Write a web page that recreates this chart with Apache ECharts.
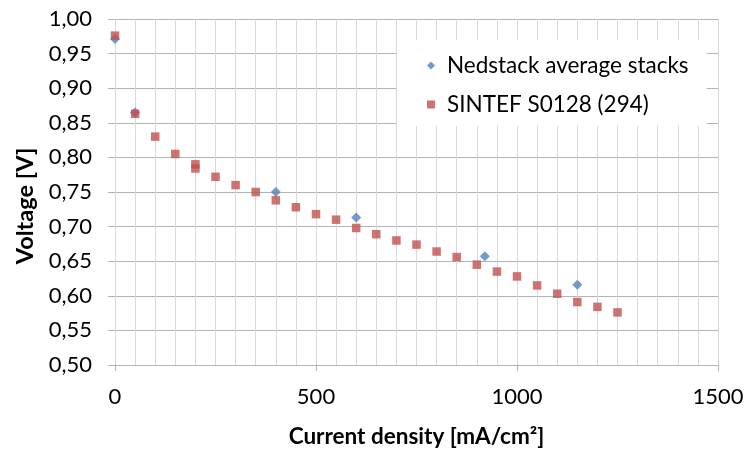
<!DOCTYPE html>
<html>
<head>
<meta charset="utf-8">
<script src="https://cdn.jsdelivr.net/npm/echarts@6/dist/echarts.min.js"></script>
<style>
  html, body { margin: 0; padding: 0; background: #fff; }
  #chart { width: 750px; height: 453px; }
</style>
</head>
<body>
<div id="chart"></div>
<script>
// Nedstack average stacks
var nedstackX = [0, 50, 400, 600, 920, 1150];
var nedstackV = [0.971, 0.865, 0.750, 0.713, 0.657, 0.616];

// SINTEF S0128 (294)
var sintefX = [0, 50, 100, 150, 200, 200, 250, 300, 350, 400, 450, 500, 550, 600, 650, 700,
  750, 800, 850, 900, 950, 1000, 1050, 1100, 1150, 1200, 1250];
var sintefV = [0.976, 0.863, 0.830, 0.805, 0.790, 0.784, 0.772, 0.760, 0.750, 0.738, 0.728,
  0.718, 0.710, 0.698, 0.689, 0.680, 0.674, 0.664, 0.656, 0.645, 0.635, 0.628, 0.615,
  0.603, 0.591, 0.584, 0.576];

var xTicks = [0, 500, 1000, 1500];

function pairs(xs, ys) {
  return xs.map(function (x, i) { return [x, ys[i]]; });
}

var font = 'Lato, "Open Sans", sans-serif';
var myChart = echarts.init(document.getElementById('chart'));

var option = {
  animation: false,
  textStyle: { fontFamily: font },
  grid: { left: 115, right: 32, top: 19, bottom: 85 },
  legend: {
    orient: 'vertical',
    left: 397,
    top: 40,
    padding: [14, 18, 10, 30],
    itemGap: 16,
    itemWidth: 8,
    itemHeight: 8,
    backgroundColor: '#fff',
    textStyle: { fontSize: 22.5, color: '#000', fontFamily: font, padding: [0, 0, 0, 7] },
    data: [
      { name: 'Nedstack average stacks', icon: 'diamond' },
      { name: 'SINTEF S0128 (294)', icon: 'rect' }
    ]
  },
  xAxis: {
    type: 'value',
    min: 0,
    max: 1500,
    interval: 500,
    name: 'Current density [mA/cm²]',
    nameLocation: 'middle',
    nameGap: 60,
    nameTextStyle: { fontSize: 22.5, fontWeight: 'bold', color: '#000', fontFamily: font },
    axisLine: { show: true, lineStyle: { color: '#b3b3b3' } },
    axisTick: { show: true, length: 6, lineStyle: { color: '#b3b3b3' } },
    axisLabel: {
      fontSize: 22, color: '#000', margin: 21,
      formatter: function (v) { return String(v); }
    },
    splitLine: { show: true, lineStyle: { color: '#d9d9d9' } },
    minorTick: { show: false, splitNumber: 10 },
    minorSplitLine: { show: true, lineStyle: { color: '#d9d9d9' } }
  },
  yAxis: {
    type: 'value',
    min: 0.5,
    max: 1.0,
    interval: 0.05,
    name: 'Voltage [V]',
    nameLocation: 'middle',
    nameGap: 76,
    nameTextStyle: { fontSize: 23.5, fontWeight: 'bold', color: '#000', fontFamily: font, padding: [0, 28, 0, 0] },
    axisLine: { show: false },
    axisTick: { show: true, length: 7, lineStyle: { color: '#b3b3b3' } },
    axisLabel: {
      fontSize: 22, color: '#000', margin: 23,
      formatter: function (v) { return v.toFixed(2).replace('.', ','); }
    },
    splitLine: { show: true, lineStyle: { color: '#b3b3b3' } }
  },
  series: [
    {
      name: 'SINTEF S0128 (294)',
      type: 'scatter',
      symbol: 'rect',
      symbolSize: 8.5,
      itemStyle: { color: '#c0504d' },
      data: pairs(sintefX, sintefV),
      z: 2
    },
    {
      name: 'Nedstack average stacks',
      type: 'scatter',
      symbol: 'diamond',
      symbolSize: 10,
      itemStyle: { color: '#4f81bd' },
      data: pairs(nedstackX, nedstackV),
      z: 1
    }
  ]
};

myChart.setOption(option);
</script>
</body>
</html>
